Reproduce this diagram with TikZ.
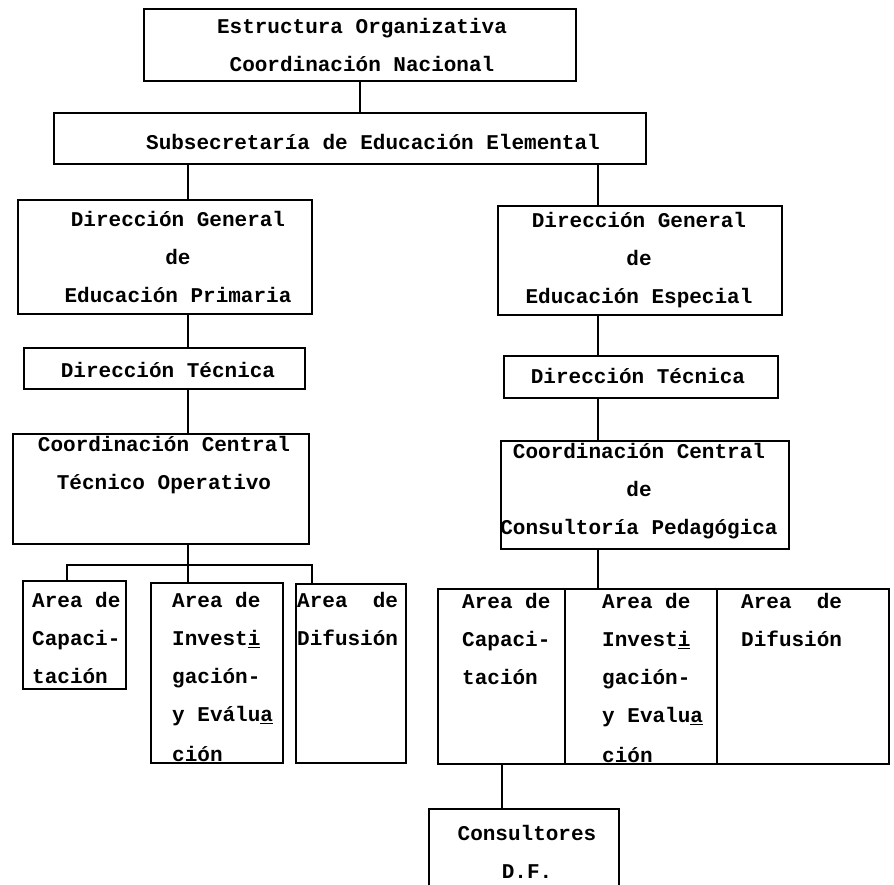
\documentclass[tikz,border=0pt]{standalone}
\usepackage{fontspec}
\setmonofont{Liberation Mono}
\usetikzlibrary{positioning}
\tikzset{
    caja/.style={draw, line width=2.3pt, anchor=north west, inner sep=0pt},
    texto/.style={font=\ttfamily\bfseries\fontsize{21}{38}\selectfont, inner sep=0pt},
    linea/.style={line width=2pt},
}
\begin{document}
\begin{tikzpicture}[x=1pt, y=-1pt]
    \useasboundingbox (0,0) rectangle (894,884);
    \coordinate (ejeI) at (188,0);
    \coordinate (ejeD) at (598,0);
    \coordinate (barra) at (0,565);

    % recuadros
    \node[caja, minimum width=432, minimum height=72] (estructura) at (143,8) {};
    \node[caja, minimum width=592, minimum height=51] (subse) at (53,112) {};
    \node[caja, minimum width=294, minimum height=114] (dgp) at (17,199) {};
    \node[caja, minimum width=284, minimum height=109] (dge) at (497,205) {};
    \node[caja, minimum width=281, minimum height=41] (dtp) at (23,347) {};
    \node[caja, minimum width=274, minimum height=42] (dte) at (503,355) {};
    \node[caja, minimum width=296, minimum height=110] (ccp) at (12,433) {};
    \node[caja, minimum width=288, minimum height=108] (cce) at (500,440) {};
    \node[caja, minimum width=103, minimum height=108] (areaCapP) at (22,580) {};
    \node[caja, minimum width=132, minimum height=180] (areaInvP) at (150,582) {};
    \node[caja, minimum width=110, minimum height=179] (areaDifP) at (295,583) {};
    \node[caja, minimum width=127, minimum height=175] (areaCapE) at (437,588) {};
    \node[caja, minimum width=152, minimum height=175] (areaInvE) at (564,588) {};
    \node[caja, minimum width=172, minimum height=175] (areaDifE) at (716,588) {};
    \node[caja, minimum width=190, minimum height=90] (consultores) at (428,808) {};

    % textos
    \node[texto, align=center] (tEst) at (362,45) {Estructura Organizativa\\Coordinación Nacional};
    \node[texto] (tSub) at (373,142) {Subsecretaría de Educación Elemental};
    \node[texto, align=center] (tDgp) at (178,257) {Dirección General\\de\\Educación Primaria};
    \node[texto, align=center] (tDge) at (639,260) {Dirección General\\de\\Educación Especial};
    \node[texto] (tDtp) at (168,370) {Dirección Técnica};
    \node[texto] (tDte) at (638,376) {Dirección Técnica};
    \node[texto, align=center] (tCcp) at (164,465) {Coordinación Central\\Técnico Operativo};
    \node[texto, align=center] (tCce) at (639,491) {Coordinación Central\\de\\Consultoría Pedagógica};
    \node[texto, align=left, anchor=north west] (tCapP) at (32,592) {Area de\\Capaci-\\tación};
    \node[texto, align=left, anchor=north west] (tInvP) at (172,592) {Area de\\Invest\underline{i}\\gación-\\y Eválu\underline{a}\\[2pt]ción};
    \node[texto, align=left, anchor=north west] (tDifP) at (297,592) {Area\ \ de\\Difusión};
    \node[texto, align=left, anchor=north west] (tCapE) at (462,593) {Area de\\Capaci-\\tación};
    \node[texto, align=left, anchor=north west] (tInvE) at (602,593) {Area de\\Invest\underline{i}\\gación-\\y Evalu\underline{a}\\[2pt]ción};
    \node[texto, align=left, anchor=north west] (tDifE) at (741,593) {Area\ \ de\\Difusión};
    \node[texto, align=center] (tCons) at (527,852) {Consultores\\D.F.};

    % conexiones
    \draw[linea] (estructura.south) -- (estructura.south |- subse.north);
    \draw[linea] (subse.south -| ejeI) -- (dgp.north -| ejeI);
    \draw[linea] (dgp.south -| ejeI) -- (dtp.north -| ejeI);
    \draw[linea] (dtp.south -| ejeI) -- (ccp.north -| ejeI);
    \draw[linea] (ccp.south -| ejeI) -- (areaInvP.north -| ejeI);
    \draw[linea] ([xshift=-8pt]areaCapP.north) |- (barra -| ejeI) -| ([xshift=17pt]areaDifP.north west);
    \draw[linea] (subse.south -| ejeD) -- (dge.north -| ejeD);
    \draw[linea] (dge.south -| ejeD) -- (dte.north -| ejeD);
    \draw[linea] (dte.south -| ejeD) -- (cce.north -| ejeD);
    \draw[linea] (cce.south -| ejeD) -- (areaInvE.north -| ejeD);
    \draw[linea] (areaCapE.south) -- (areaCapE.south |- consultores.north);
\end{tikzpicture}
\end{document}
